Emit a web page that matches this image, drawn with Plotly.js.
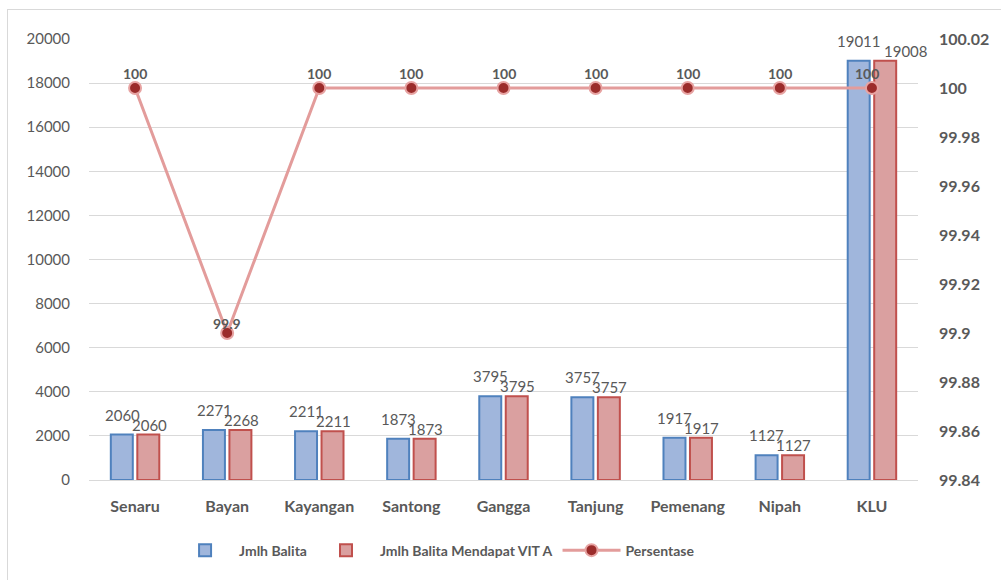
<!DOCTYPE html>
<html>
<head>
<meta charset="utf-8">
<script src="https://cdn.plot.ly/plotly-3.0.1.min.js"></script>
<style>
  html, body { margin: 0; padding: 0; background: #fff; overflow: hidden; }
  #wrap { position: relative; width: 1001px; height: 580px; overflow: hidden; }
  #frame { position: absolute; left: 7px; top: 9px; width: 1001px; height: 580px;
           border-left: 1px solid #d9d9d9; border-top: 1px solid #d9d9d9; pointer-events: none; }
  #chart { position: absolute; left: 0; top: 0; width: 1001px; height: 580px; }
</style>
</head>
<body>
<div id="wrap">
  <div id="chart"></div>
  <div id="frame"></div>
</div>
<script>
const categories = ["Senaru", "Bayan", "Kayangan", "Santong", "Gangga", "Tanjung", "Pemenang", "Nipah", "KLU"];
const jmlhBalita = [2060, 2271, 2211, 1873, 3795, 3757, 1917, 1127, 19011];
const jmlhVitA   = [2060, 2268, 2211, 1873, 3795, 3757, 1917, 1127, 19008];
const persentase = [100, 99.9, 100, 100, 100, 100, 100, 100, 100];
const leftTicks  = [0, 2000, 4000, 6000, 8000, 10000, 12000, 14000, 16000, 18000, 20000];
const rightTicks = [99.84, 99.86, 99.88, 99.9, 99.92, 99.94, 99.96, 99.98, 100, 100.02];

const FONT = "Lato, 'Open Sans', sans-serif";
const GREY = "#595959";

const traces = [
  {
    type: "bar", name: "Jmlh Balita", x: categories, y: jmlhBalita,
    marker: { color: "#a0b6dc", line: { color: "#4f81bd", width: 2 } },
    hoverinfo: "skip"
  },
  {
    type: "bar", name: "Jmlh Balita Mendapat VIT A", x: categories, y: jmlhVitA,
    marker: { color: "#daa0a0", line: { color: "#c0504d", width: 2 } },
    hoverinfo: "skip"
  },
  {
    type: "scatter", mode: "lines+markers", name: "Persentase",
    x: categories, y: persentase, yaxis: "y2",
    line: { color: "#e39c9b", width: 3 },
    marker: { color: "#9b2c2b", size: 12, line: { color: "#e7a3a2", width: 2 } },
    hoverinfo: "skip", cliponaxis: false
  }
];

const annotations = [];
categories.forEach((c, i) => {
  const wide = String(jmlhVitA[i]).length >= 5;
  annotations.push({ x: c, y: jmlhBalita[i], xref: "x", yref: "y", text: String(jmlhBalita[i]),
    showarrow: false, xshift: -13, yshift: 20, yanchor: "middle",
    font: { family: FONT, size: 15, color: GREY } });
  annotations.push({ x: c, y: jmlhVitA[i], xref: "x", yref: "y", text: String(jmlhVitA[i]),
    showarrow: false, xshift: wide ? 34 : 14, yshift: 10, yanchor: "middle",
    font: { family: FONT, size: 15, color: GREY } });
  const p = persentase[i];
  annotations.push({ x: c, y: p, xref: "x", yref: "y2", text: String(p),
    showarrow: false, yshift: p < 100 ? 10 : 15, xshift: (i === categories.length - 1) ? -5 : 0,
    yanchor: "middle",
    font: { family: FONT, size: 14, color: GREY, weight: "bold" } });
});

const layout = {
  width: 1001, height: 580,
  margin: { l: 89, r: 83, t: 39, b: 100, autoexpand: false },
  paper_bgcolor: "#ffffff", plot_bgcolor: "#ffffff",
  font: { family: FONT, color: GREY },
  barmode: "group", bargap: 0.425, bargroupgap: 0.17,
  showlegend: true,
  legend: { orientation: "h", x: 0.099, xanchor: "left", y: -0.16, yanchor: "middle",
    font: { family: FONT, size: 14, color: GREY, weight: "bold" }, itemwidth: 58 },
  xaxis: {
    type: "category", range: [-0.5, categories.length - 0.5],
    showgrid: false, showline: true, linecolor: "#d9d9d9", linewidth: 1,
    ticks: "", ticklabelstandoff: 12, automargin: false,
    tickfont: { family: FONT, size: 16, color: GREY, weight: "bold" }
  },
  yaxis: {
    range: [0, 20000], tickvals: leftTicks, ticktext: leftTicks.map(String),
    showgrid: true, gridcolor: "#d9d9d9", gridwidth: 1, zeroline: false, showline: false,
    ticks: "", ticklabelstandoff: 18, automargin: false,
    tickfont: { family: FONT, size: 15, color: GREY }
  },
  yaxis2: {
    overlaying: "y", side: "right", range: [99.84, 100.02],
    tickvals: rightTicks, ticktext: rightTicks.map(v => String(+v.toFixed(2))),
    showgrid: false, zeroline: false, showline: false, ticks: "", ticklabelstandoff: 20,
    automargin: false,
    tickfont: { family: FONT, size: 16, color: GREY, weight: "bold" }
  },
  annotations: annotations
};

Plotly.newPlot("chart", traces, layout, { staticPlot: true, displayModeBar: false });
</script>
</body>
</html>
